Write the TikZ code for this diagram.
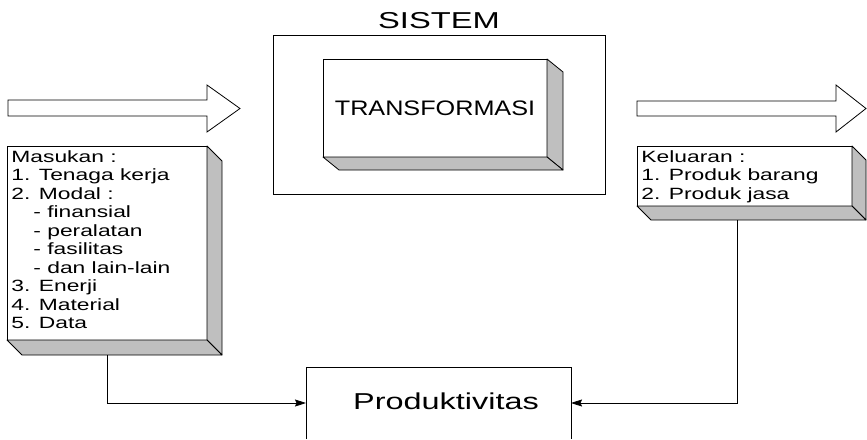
\documentclass[tikz,border=0pt]{standalone}
\usepackage{fontspec}
\usepackage{graphicx}
\setmainfont{Liberation Sans}
\usetikzlibrary{arrows.meta,calc}

% horizontally widened text
\newcommand\widetxt[2]{\scalebox{#1}[1]{#2}}
% shaded right and bottom faces of a raised box: node, dx, dy
\newcommand\sidefaces[3]{%
  \draw[sideface] (#1.north east) -- ++(#2,#3) -- ($(#1.south east)+(#2,#3)$) -- (#1.south east) -- cycle;
  \draw[sideface] (#1.south west) -- ++(#2,#3) -- ($(#1.south east)+(#2,#3)$) -- (#1.south east) -- cycle;
}

\begin{document}
\begin{tikzpicture}[x=1pt,y=-1pt,line width=0.8pt,
  frontface/.style={draw=black,fill=white,outer sep=0pt,inner sep=0pt},
  sideface/.style={draw=black,fill=black!25,line join=round},
  plainbox/.style={draw=black,outer sep=0pt,inner sep=0pt},
  blockarrow/.style={draw=black,fill=white,line join=miter},
  listtext/.style={anchor=base west,inner sep=0pt,font=\fontsize{16.3}{18}\selectfont},
  conn/.style={-{Stealth[length=11pt,width=7pt,inset=1.5pt]}}]
\clip (0,0) rectangle (867,439);

% flow arrows into and out of the system
\draw[blockarrow] (8,100) -- (207,100) -- (207,85) -- (240,108.5) -- (207,132) -- (207,116) -- (8,116) -- cycle;
\draw[blockarrow] (637,101) -- (836,101) -- (836,85) -- (866,108.5) -- (836,132) -- (836,116) -- (637,116) -- cycle;

% system frame with its title
\node[plainbox,minimum width=332,minimum height=159,anchor=north west] (sistem) at (273,35) {};
\node[inner sep=0pt,font=\fontsize{23}{26}\selectfont] (sistemlbl) at (439,20.5) {\widetxt{1.42}{SISTEM}};

% transformation block
\node[frontface,minimum width=224,minimum height=98,anchor=north west,
      font=\fontsize{21}{24}\selectfont] (trans) at (323,59) {\widetxt{1.2}{TRANSFORMASI}};
\sidefaces{trans}{16}{13}

% input block
\node[frontface,minimum width=200,minimum height=194,anchor=north west] (masukan) at (7,146) {};
\sidefaces{masukan}{15}{15}
\foreach \txt/\xx [count=\i from 0] in {%
    Masukan :/11, 1. Tenaga kerja/11, 2. Modal :/11, - finansial/33, - peralatan/33,
    - fasilitas/33, - dan lain-lain/33, 3. Enerji/11, 4. Material/11, 5. Data/11}
  \node[listtext] (in\i) at (\xx,{162+18.55*\i}) {\widetxt{1.4}{\txt}};

% output block
\node[frontface,minimum width=215,minimum height=60,anchor=north west] (keluaran) at (637,146) {};
\sidefaces{keluaran}{14}{14}
\foreach \txt [count=\i from 0] in {Keluaran :, 1. Produk barang, 2. Produk jasa}
  \node[listtext] (out\i) at (641,{162+18.55*\i}) {\widetxt{1.4}{\txt}};

% productivity block, open at the bottom
\node[minimum width=265,minimum height=72,anchor=north west,outer sep=0pt] (prod) at (306,367) {};
\draw (prod.south west) -- (prod.north west) -- (prod.north east) -- (prod.south east);
\node[inner sep=0pt,anchor=base,font=\fontsize{23}{26}\selectfont] (prodlbl) at (446,409.5) {\widetxt{1.41}{Produktivitas}};

% feedback connectors
\coordinate (intap) at ($(masukan.south)+(0,15)$);
\coordinate (outtap) at ($(keluaran.south west)+(100,14)$);
\draw[conn] (intap) |- (prod.west);
\draw[conn] (outtap) |- (prod.east);
\end{tikzpicture}
\end{document}
